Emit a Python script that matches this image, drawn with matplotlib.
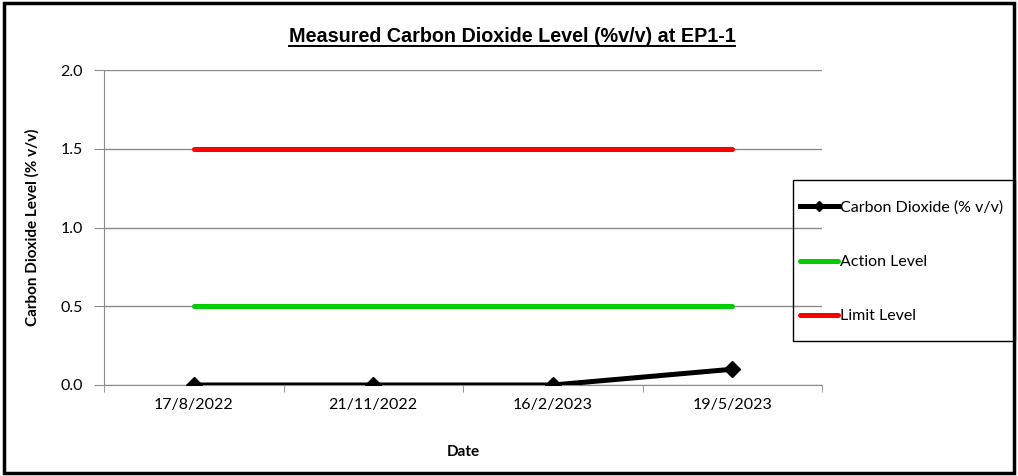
import matplotlib
matplotlib.use("Agg")
import matplotlib.pyplot as plt
from matplotlib.patches import Rectangle
from matplotlib.lines import Line2D
import numpy as np

# data
dates = ["17/8/2022", "21/11/2022", "16/2/2023", "19/5/2023"]
co2_level = [0.0, 0.0, 0.0, 0.1]
action_level = [0.5, 0.5, 0.5, 0.5]
limit_level = [1.5, 1.5, 1.5, 1.5]
y_ticks = [0.0, 0.5, 1.0, 1.5, 2.0]

plt.rcParams['font.family'] = ['Lato', 'DejaVu Sans']
grey = '#8c8c8c'

fig = plt.figure(figsize=(10.18, 4.76), dpi=100)
ax = fig.add_axes([104 / 1018, 1 - 385 / 476, (822 - 104) / 1018, (385 - 70) / 476])

x = np.arange(len(dates))
ax.plot(x, co2_level, color='black', lw=3.6, marker='D', ms=8,
        label='Carbon Dioxide (% v/v)', zorder=5)
ax.plot(x, action_level, color='#00cc00', lw=3.6, solid_capstyle='round',
        label='Action Level', zorder=4)
ax.plot(x, limit_level, color='#ff0000', lw=3.6, solid_capstyle='round',
        label='Limit Level', zorder=4)

ax.set_xlim(-0.5, len(dates) - 0.5)
ax.set_ylim(0, 2.0)
ax.set_yticks(y_ticks)
ax.set_yticklabels([f"{v:.1f}" for v in y_ticks], fontsize=11.5)
ax.set_xticks(x)
ax.set_xticklabels(dates, fontsize=11.5)
ax.set_xticks(np.arange(len(dates) + 1) - 0.5, minor=True)
ax.tick_params(axis='x', which='major', length=0, pad=9)
ax.tick_params(axis='x', which='minor', length=5, color=grey, direction='out')
ax.tick_params(axis='y', length=7, color=grey, pad=8)
ax.yaxis.grid(True, color=grey, lw=1)
ax.set_axisbelow(True)
for side in ['top', 'right']:
    ax.spines[side].set_visible(False)
for side in ['left', 'bottom']:
    ax.spines[side].set_color(grey)

ax.set_ylabel('Carbon Dioxide Level (% v/v)', fontsize=11, fontweight='bold', labelpad=15)
ax.set_xlabel('Date', fontsize=11, fontweight='bold', labelpad=24)

title = fig.text(512 / 1018, 1 - 37 / 476, 'Measured Carbon Dioxide Level (%v/v) at EP1-1',
                 family='Liberation Sans', fontsize=14.2, fontweight='bold',
                 ha='center', va='center')

leg = fig.legend(loc='center left', bbox_to_anchor=(795 / 1018, 1 - 262 / 476),
                 frameon=False, fontsize=11.5,
                 handlelength=2.4, handletextpad=0.1, labelspacing=2.5,
                 borderpad=0.3, borderaxespad=0, markerscale=0.7)

fig.canvas.draw()

# legend frame: tight sides, taller top/bottom like the original
inv = fig.transFigure.inverted()
x0 = 793 / 1018
fig.add_artist(Rectangle((x0, 1 - 341 / 476), 1015 / 1018 - x0, (341 - 180) / 476,
                         transform=fig.transFigure, fill=False, edgecolor='black', lw=1.0))

# underline the title
bb = title.get_window_extent().transformed(inv)
fig.add_artist(Line2D([bb.x0, bb.x1], [bb.y0 + 0.002, bb.y0 + 0.002],
                      color='black', lw=1.4, transform=fig.transFigure))

# outer chart frame
fig.add_artist(Rectangle((0.004, 0.007), 0.992, 0.986, transform=fig.transFigure,
                         fill=False, edgecolor='black', lw=2.5))

fig.savefig('out.png', dpi=100)
